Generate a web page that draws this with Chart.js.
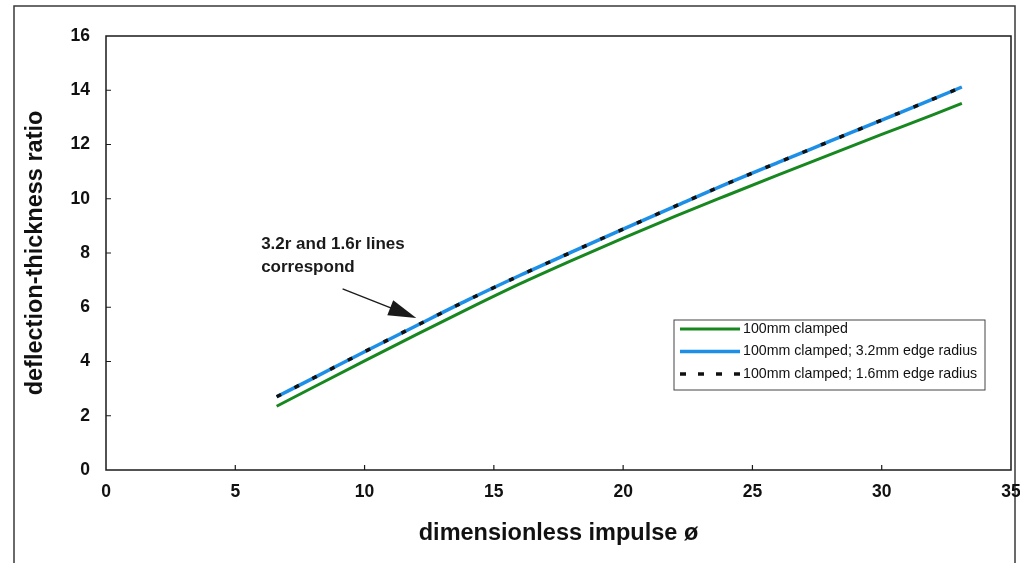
<!DOCTYPE html>
<html>
<head>
<meta charset="utf-8">
<script src="https://cdn.jsdelivr.net/npm/chart.js@4.4.1/dist/chart.umd.min.js"></script>
<style>
  html, body { margin: 0; padding: 0; background: #ffffff; }
  #wrap { width: 1020px; height: 563px; position: relative; }
</style>
</head>
<body>
<div id="wrap"><canvas id="c" width="1020" height="563"></canvas></div>
<script>
// ---- data ----
const impulse = [6.6, 8, 10, 12, 14, 16, 18, 20, 22, 24, 26, 28, 30, 32, 33.1];
const clamped100 = [2.35, 3.04, 4.02, 4.99, 5.94, 6.86, 7.72, 8.55, 9.35, 10.12, 10.88, 11.63, 12.37, 13.1, 13.52];
const clampedR32 = [2.7, 3.38, 4.36, 5.32, 6.27, 7.17, 8.03, 8.88, 9.72, 10.55, 11.34, 12.12, 12.9, 13.68, 14.12];
const clampedR16 = [2.7, 3.38, 4.36, 5.32, 6.27, 7.17, 8.03, 8.88, 9.72, 10.55, 11.34, 12.12, 12.9, 13.68, 14.12];
const seriesNames = ['100mm clamped', '100mm clamped; 3.2mm edge radius', '100mm clamped; 1.6mm edge radius'];
const xTicks = [0, 5, 10, 15, 20, 25, 30, 35];
const yTicks = [0, 2, 4, 6, 8, 10, 12, 14, 16];
const annotationLines = ['3.2r and 1.6r lines', 'correspond'];

const FONT = '"Liberation Sans", Arial, sans-serif';
const pts = (ys) => impulse.map((x, i) => ({ x: x, y: ys[i] }));

const framePlugin = {
  id: 'frame',
  beforeDraw(chart) {
    const ctx = chart.ctx;
    ctx.save();
    ctx.fillStyle = '#ffffff';
    ctx.fillRect(0, 0, chart.width, chart.height);
    ctx.strokeStyle = '#3a3a3a';
    ctx.lineWidth = 1.5;
    ctx.strokeRect(14, 6, 1001, 620);
    ctx.restore();
  },
  afterDraw(chart) {
    const ctx = chart.ctx;
    const a = chart.chartArea;
    const xs = chart.scales.x, ys = chart.scales.y;
    ctx.save();
    // plot box
    ctx.strokeStyle = '#1a1a1a';
    ctx.lineWidth = 1.5;
    ctx.strokeRect(a.left, a.top, a.right - a.left, a.bottom - a.top);
    // inward tick marks
    ctx.lineWidth = 1.2;
    ctx.beginPath();
    xTicks.forEach(v => {
      if (v === 0 || v === 35) return;
      const px = xs.getPixelForValue(v);
      ctx.moveTo(px, a.bottom); ctx.lineTo(px, a.bottom - 5);
    });
    yTicks.forEach(v => {
      if (v === 0 || v === 16) return;
      const py = ys.getPixelForValue(v);
      ctx.moveTo(a.left, py); ctx.lineTo(a.left + 5, py);
    });
    ctx.stroke();

    // annotation
    ctx.fillStyle = '#1a1a1a';
    ctx.font = 'bold 17px ' + FONT;
    ctx.textAlign = 'left';
    ctx.textBaseline = 'middle';
    const tx = xs.getPixelForValue(6.0), ty = ys.getPixelForValue(8.32);
    ctx.fillText(annotationLines[0], tx, ty);
    ctx.fillText(annotationLines[1], tx, ty + 23);
    // arrow
    const x1 = xs.getPixelForValue(9.15), y1 = ys.getPixelForValue(6.68);
    const x2 = xs.getPixelForValue(12.0), y2 = ys.getPixelForValue(5.6);
    const ang = Math.atan2(y2 - y1, x2 - x1);
    ctx.strokeStyle = '#1a1a1a';
    ctx.lineWidth = 1.3;
    ctx.beginPath(); ctx.moveTo(x1, y1); ctx.lineTo(x2 - 20 * Math.cos(ang), y2 - 20 * Math.sin(ang)); ctx.stroke();
    ctx.beginPath();
    ctx.moveTo(x2, y2);
    ctx.lineTo(x2 - 28 * Math.cos(ang) + 8 * Math.sin(ang), y2 - 28 * Math.sin(ang) - 8 * Math.cos(ang));
    ctx.lineTo(x2 - 28 * Math.cos(ang) - 8 * Math.sin(ang), y2 - 28 * Math.sin(ang) + 8 * Math.cos(ang));
    ctx.closePath();
    ctx.fill();

    // legend box
    const lx = 674, ly = 320, lw = 311, lh = 70;
    ctx.fillStyle = '#ffffff';
    ctx.fillRect(lx, ly, lw, lh);
    ctx.strokeStyle = '#444';
    ctx.lineWidth = 1;
    ctx.strokeRect(lx, ly, lw, lh);
    ctx.font = '14.2px ' + FONT;
    ctx.textBaseline = 'middle';
    chart.data.datasets.forEach((ds, i) => {
      const yy = ly + 9 + i * 22.5;
      ctx.strokeStyle = ds.borderColor;
      ctx.lineWidth = ds.borderWidth;
      ctx.setLineDash(ds.borderDash ? [6, 12] : []);
      ctx.beginPath(); ctx.moveTo(lx + 6, yy); ctx.lineTo(lx + 66, yy); ctx.stroke();
      ctx.setLineDash([]);
      ctx.fillStyle = '#111';
      ctx.fillText(ds.label, lx + 69, yy);
    });
    ctx.restore();
  }
};

new Chart(document.getElementById('c'), {
  type: 'line',
  data: {
    datasets: [
      { label: seriesNames[0], data: pts(clamped100), borderColor: '#17871f', borderWidth: 3, pointRadius: 0, cubicInterpolationMode: 'monotone', order: 3 },
      { label: seriesNames[1], data: pts(clampedR32), borderColor: '#1e8fe6', borderWidth: 3.5, pointRadius: 0, cubicInterpolationMode: 'monotone', order: 2 },
      { label: seriesNames[2], data: pts(clampedR16), borderColor: '#111111', borderWidth: 3.5, borderDash: [5, 15], pointRadius: 0, cubicInterpolationMode: 'monotone', order: 1 }
    ]
  },
  options: {
    responsive: false,
    animation: false,
    devicePixelRatio: 1,
    layout: { padding: { top: 36, right: 9, left: 0, bottom: 0 } },
    plugins: { legend: { display: false }, tooltip: { enabled: false } },
    scales: {
      x: {
        type: 'linear', min: 0, max: 35,
        afterBuildTicks: (s) => { s.ticks = xTicks.map(v => ({ value: v })); },
        afterFit: (s) => { s.height = 93; s.paddingRight = 0; s.paddingLeft = 0; },
        grid: { display: false, drawTicks: false },
        border: { display: false },
        ticks: { color: '#111', font: { family: FONT, size: 17.5, weight: 'bold' }, padding: 12, maxRotation: 0 },
        title: { display: true, text: 'dimensionless impulse ø', color: '#111', font: { family: FONT, size: 23.5, weight: 'bold' }, padding: { top: 0, bottom: 15 } }
      },
      y: {
        type: 'linear', min: 0, max: 16,
        afterBuildTicks: (s) => { s.ticks = yTicks.map(v => ({ value: v })); },
        afterFit: (s) => { s.width = 106; s.paddingTop = 0; s.paddingBottom = 0; },
        grid: { display: false, drawTicks: false },
        border: { display: false },
        ticks: { color: '#111', font: { family: FONT, size: 17.5, weight: 'bold' }, padding: 16 },
        title: { display: true, text: 'deflection-thickness ratio', color: '#111', font: { family: FONT, size: 23.5, weight: 'bold' }, padding: { top: 21, bottom: 0 } }
      }
    }
  },
  plugins: [framePlugin]
});
</script>
</body>
</html>
